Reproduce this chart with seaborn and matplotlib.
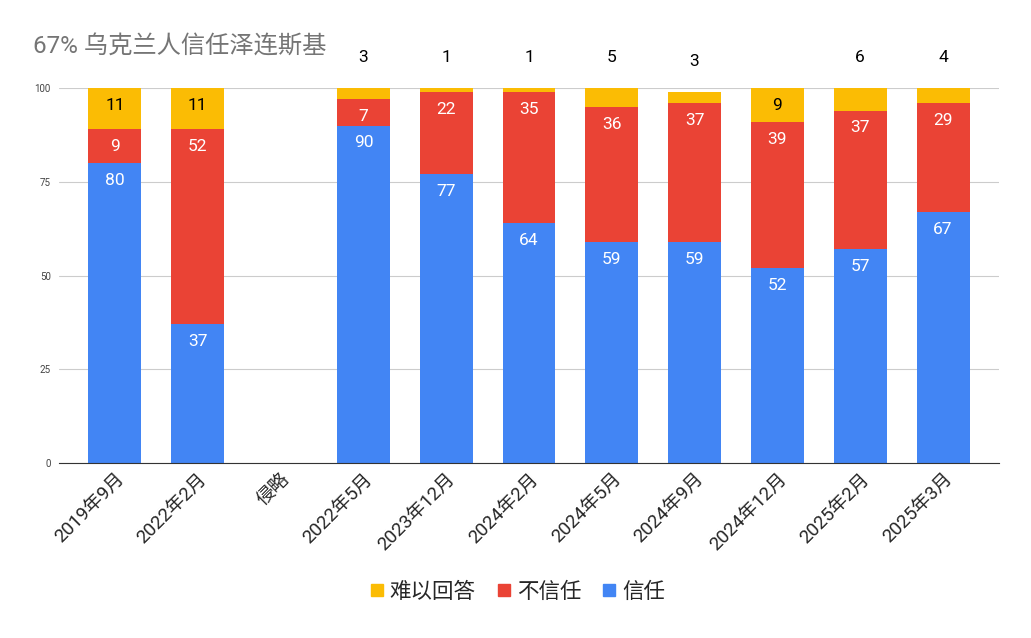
import seaborn as sns
import pandas as pd
import numpy as np
import matplotlib.pyplot as plt
from matplotlib.lines import Line2D

categories = ["2019年9月", "2022年2月", "侵略", "2022年5月", "2023年12月", "2024年2月",
              "2024年5月", "2024年9月", "2024年12月", "2025年2月", "2025年3月"]
trust = [80, 37, np.nan, 90, 77, 64, 59, 59, 52, 57, 67]
distrust = [9, 52, np.nan, 7, 22, 35, 36, 37, 39, 37, 29]
hard = [11, 11, np.nan, 3, 1, 1, 5, 3, 9, 6, 4]

BLUE, RED, YELLOW = "#4285F4", "#EA4335", "#FBBC04"

sns.set_style("white")
plt.rcParams['font.family'] = ['Roboto', 'Noto Sans CJK SC', 'DejaVu Sans']

df = pd.DataFrame({"cat": categories, "trust": trust, "distrust": distrust, "hard": hard})
df["mid"] = df["trust"] + df["distrust"]
df["top"] = df["mid"] + df["hard"]

fig = plt.figure(figsize=(10.31, 6.38), dpi=100)
ax = fig.add_axes([59 / 1031, 1 - 463 / 638, 940 / 1031, 375 / 638])

w = 0.64
for col, c in [("top", YELLOW), ("mid", RED), ("trust", BLUE)]:
    sns.barplot(data=df, x="cat", y=col, order=categories, color=c, width=w,
                saturation=1, ax=ax, zorder=3, linewidth=0)

ax.set_ylim(0, 100)
ax.set_xlim(-0.676, 10.676)
ax.set_yticks([0, 25, 50, 75, 100])
ax.grid(axis="y", color="#cccccc", lw=0.8, zorder=0)
for s in ["top", "right", "left"]:
    ax.spines[s].set_visible(False)
ax.spines["bottom"].set_color("#333333")
ax.spines["bottom"].set_zorder(4)
ax.set_xlabel("")
ax.set_ylabel("")
ax.tick_params(axis="y", length=0, labelsize=7, labelcolor="#444444", pad=6)
ax.tick_params(axis="x", length=0, labelsize=13.5, pad=5)
plt.setp(ax.get_xticklabels(), rotation=45, ha="right", rotation_mode="anchor")

# value labels
for i, r in df.iterrows():
    if np.isnan(r["trust"]):
        continue
    segs = [(r["trust"], r["trust"], "white"),
            (r["mid"], r["distrust"], "white")]
    for top, v, tc in segs:
        ax.annotate(f"{int(v)}", (i, top), xytext=(0, -12.5), textcoords="offset points",
                    ha="center", va="center", color=tc, fontsize=12.5, zorder=5)
    if r["hard"] >= 7:
        ax.annotate(f"{int(r['hard'])}", (i, r["top"]), xytext=(0, -12.5),
                    textcoords="offset points", ha="center", va="center",
                    color="black", fontsize=12.5, zorder=5)
    else:
        ax.annotate(f"{int(r['hard'])}", (i, r["top"]), xytext=(0, 21.8),
                    textcoords="offset points", ha="center", va="center",
                    color="black", fontsize=12.5, zorder=5, annotation_clip=False)

fig.text(33 / 1031, 1 - 47 / 638, "67% 乌克兰人信任泽连斯基", fontsize=17.5,
         color="#757575", ha="left", va="center")

handles = [Line2D([], [], marker="s", ls="", color=c, markersize=8.5)
           for c in [YELLOW, RED, BLUE]]
fig.legend(handles, ["难以回答", "不信任", "信任"], loc="center",
           bbox_to_anchor=(0.5, 1 - 592 / 638), ncol=3, frameon=False,
           fontsize=15.5, handletextpad=0.1, columnspacing=0.8, handlelength=1)

fig.savefig("out.png", dpi=100)
